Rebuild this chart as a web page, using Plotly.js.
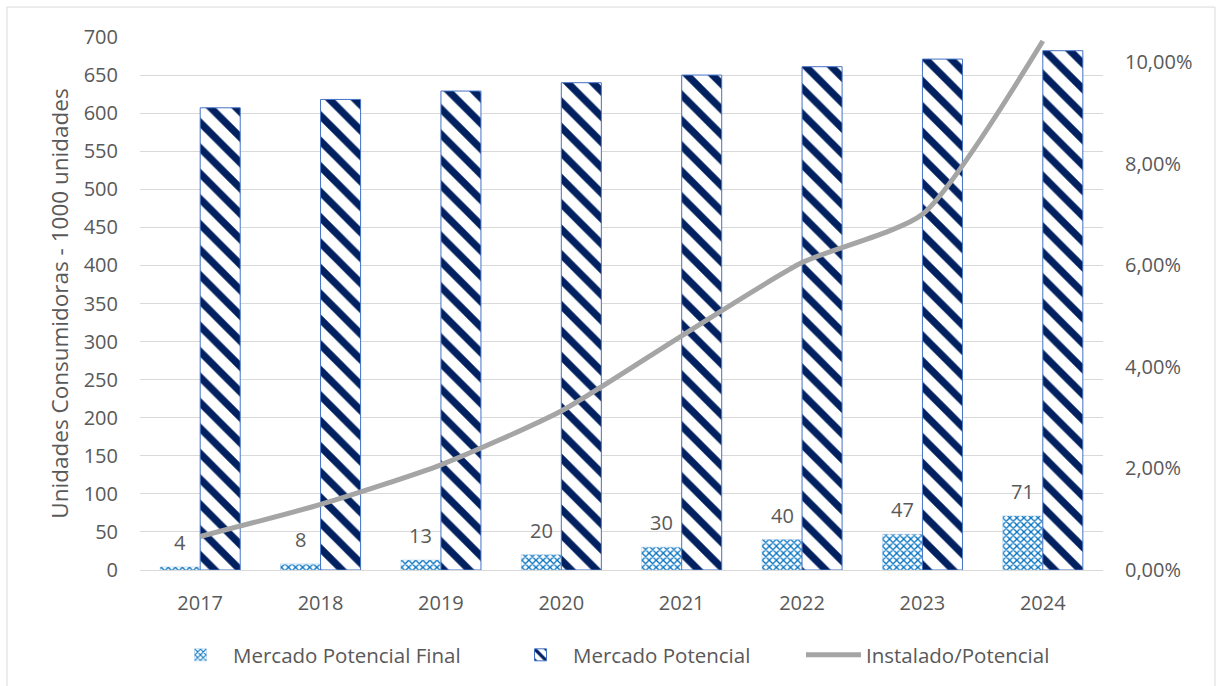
<!DOCTYPE html>
<html>
<head>
<meta charset="utf-8">
<script src="https://cdn.plot.ly/plotly-3.0.1.min.js"></script>
<style>
  html, body { margin: 0; padding: 0; background: #fff; }
  #chart { width: 1216px; height: 686px; }
</style>
</head>
<body>
<div id="chart"></div>
<script>
// Years on the category axis
const years = ['2017', '2018', '2019', '2020', '2021', '2022', '2023', '2024'];
// Consumer units, in thousands
const mercadoPotencialFinal = [4, 8, 13, 20, 30, 40, 47, 71];
const mercadoPotencial = [607, 618, 629, 640, 650, 661, 671, 682];
// Installed / potential share (right axis)
const instaladoPotencial = [0.0066, 0.0129, 0.0207, 0.0313, 0.0461, 0.0605, 0.0700, 0.1041];
// Axis tick values
const leftTicks = [0, 50, 100, 150, 200, 250, 300, 350, 400, 450, 500, 550, 600, 650, 700];
const rightTicks = [0, 0.02, 0.04, 0.06, 0.08, 0.10];
const rightTickText = ['0,00%', '2,00%', '4,00%', '6,00%', '8,00%', '10,00%'];

const FONT = '"Open Sans", "Noto Sans", sans-serif';
const TEXT = '#595959';

// plot area in pixels, used to place the border and the legends
const PL = 140, PR = 1103, PT = 37, PB = 571;
const px = v => (v - PL) / (PR - PL);
const py = v => (PB - v) / (PB - PT);

const traces = [
  {
    type: 'bar',
    name: 'Mercado Potencial Final',
    x: years,
    y: mercadoPotencialFinal,
    legend: 'legend',
    marker: {
      color: '#ffffff',
      line: { color: '#9dc3e6', width: 0.5 },
      pattern: { shape: 'x', fgcolor: '#0070c0', bgcolor: '#ffffff', size: 5, solidity: 0.45 }
    },
    hoverinfo: 'skip'
  },
  {
    type: 'bar',
    name: 'Mercado Potencial',
    x: years,
    y: mercadoPotencial,
    legend: 'legend2',
    marker: {
      color: '#ffffff',
      line: { color: '#4472c4', width: 1 },
      pattern: { shape: '\\', fgcolor: '#002060', bgcolor: '#ffffff', size: 18, solidity: 0.4 }
    },
    hoverinfo: 'skip'
  },
  {
    type: 'scatter',
    mode: 'lines',
    name: 'Instalado/Potencial',
    x: years,
    y: instaladoPotencial,
    yaxis: 'y2',
    legend: 'legend3',
    line: { color: '#a5a5a5', width: 5, shape: 'spline', smoothing: 0.6 },
    hoverinfo: 'skip'
  }
];

// Value labels above the small bars (x given as category index)
const annotations = years.map((yr, i) => ({
  x: i,
  y: mercadoPotencialFinal[i],
  xref: 'x',
  yref: 'y',
  text: String(mercadoPotencialFinal[i]),
  showarrow: false,
  xshift: -20,
  yanchor: 'bottom',
  yshift: 9,
  font: { family: FONT, size: 20, color: TEXT }
}));

const legendBase = {
  orientation: 'h',
  yanchor: 'middle',
  y: py(655),
  xanchor: 'left',
  font: { family: FONT, size: 20.5, color: TEXT },
  bgcolor: 'rgba(0,0,0,0)',
  itemwidth: 55
};

const layout = {
  width: 1216,
  height: 686,
  paper_bgcolor: '#ffffff',
  plot_bgcolor: '#ffffff',
  margin: { l: PL, r: 1216 - PR, t: PT, b: 686 - PB },
  font: { family: FONT, size: 20, color: TEXT },
  barmode: 'group',
  bargap: 0.335,
  bargroupgap: 0,
  showlegend: true,
  legend: Object.assign({}, legendBase, { x: px(168) }),
  legend2: Object.assign({}, legendBase, { x: px(508) }),
  legend3: Object.assign({}, legendBase, { x: px(801) }),
  xaxis: {
    type: 'category',
    showgrid: false,
    showline: true,
    linecolor: '#d9d9d9',
    linewidth: 1,
    ticks: '',
    ticklabelstandoff: 15,
    tickfont: { family: FONT, size: 20, color: TEXT },
    zeroline: false
  },
  yaxis: {
    range: [0, 700],
    tickvals: leftTicks,
    ticktext: leftTicks.map(String),
    showgrid: true,
    gridcolor: '#d9d9d9',
    gridwidth: 1,
    zeroline: false,
    showline: false,
    ticks: '',
    ticklabelstandoff: 21,
    tickfont: { family: FONT, size: 20, color: TEXT },
    title: {
      text: 'Unidades Consumidoras - 1000 unidades',
      font: { family: FONT, size: 22.5, color: TEXT },
      standoff: 8
    }
  },
  yaxis2: {
    overlaying: 'y',
    side: 'right',
    range: [0, 0.1049],
    tickvals: rightTicks,
    ticktext: rightTickText,
    showgrid: false,
    zeroline: false,
    showline: false,
    ticks: '',
    ticklabelstandoff: 21,
    tickfont: { family: FONT, size: 20, color: TEXT }
  },
  annotations: annotations,
  shapes: [
    {
      type: 'rect',
      xref: 'paper',
      yref: 'paper',
      x0: px(7),
      x1: px(1215),
      y0: py(690),
      y1: py(7),
      line: { color: '#d9d9d9', width: 1 },
      fillcolor: 'rgba(0,0,0,0)',
      layer: 'below'
    }
  ]
};

Plotly.newPlot('chart', traces, layout, { displayModeBar: false, staticPlot: true });
</script>
</body>
</html>
